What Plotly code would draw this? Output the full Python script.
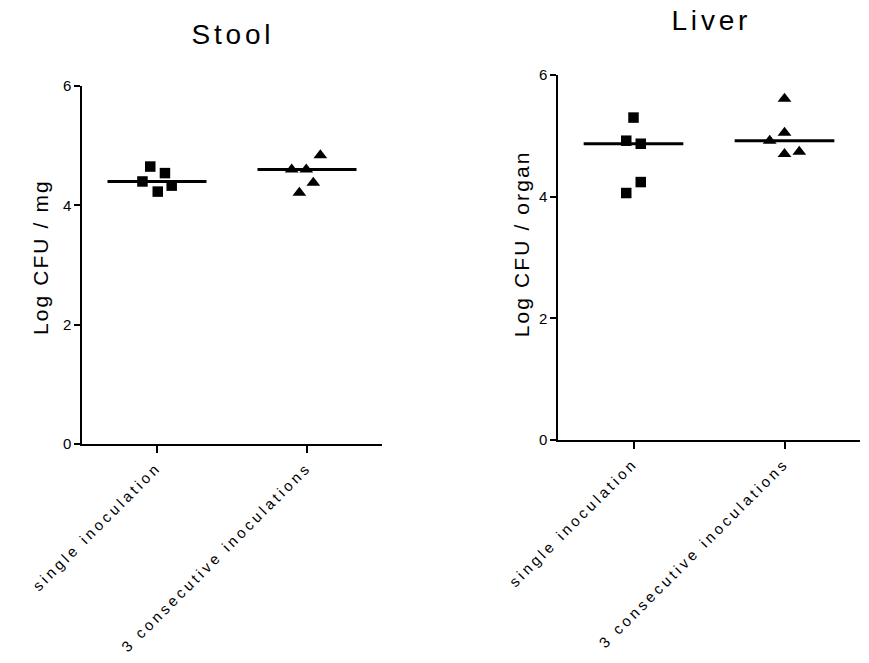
import numpy as np
import plotly.graph_objects as go

categories = ["single inoculation", "3 consecutive inoculations"]

stool_single = [4.65, 4.54, 4.40, 4.33, 4.23]
stool_triple = [4.84, 4.60, 4.60, 4.38, 4.21]
liver_single = [5.30, 4.92, 4.87, 4.24, 4.06]
liver_triple = [5.61, 5.05, 4.92, 4.70, 4.74]

# horizontal scatter of the points around their category (as drawn)
stool_single_jit = [-0.045, 0.053, -0.097, 0.098, 0.005]
stool_triple_jit = [0.089, -0.102, -0.005, 0.042, -0.051]
liver_single_jit = [0.0, -0.048, 0.048, 0.048, -0.048]
liver_triple_jit = [0.0, 0.0, -0.098, 0.0, 0.098]

y_ticks = [0, 2, 4, 6]

FONT = "Arial, Liberation Sans, sans-serif"
W, H = 869, 663


def px(x):
    return x / W


def py(y):
    return (H - y) / H


fig = go.Figure()


def add_group(values, jit, cat, symbol, xa, ya):
    xs = [cat + j for j in jit]
    fig.add_trace(go.Scatter(
        x=xs, y=values, mode="markers", xaxis=xa, yaxis=ya,
        marker=dict(symbol=symbol, size=10.5 if symbol == "square" else 12,
                    color="black", line=dict(width=0)),
        showlegend=False, hoverinfo="y"))
    med = float(np.median(values))
    fig.add_trace(go.Scatter(
        x=[cat - 0.33, cat + 0.33], y=[med, med], mode="lines",
        xaxis=xa, yaxis=ya, line=dict(color="black", width=3),
        showlegend=False, hoverinfo="skip"))


add_group(stool_single, stool_single_jit, 0, "square", "x", "y")
add_group(stool_triple, stool_triple_jit, 1, "triangle-up", "x", "y")
add_group(liver_single, liver_single_jit, 0, "square", "x2", "y2")
add_group(liver_triple, liver_triple_jit, 1, "triangle-up", "x2", "y2")

xcommon = dict(range=[-0.5, 1.5], tickvals=[0, 1], ticktext=categories,
               tickangle=-45, showline=True, linecolor="black", linewidth=1.5,
               ticks="outside", ticklen=7, tickwidth=1.5, tickcolor="black",
               showgrid=False, zeroline=False, automargin=False,
               tickfont=dict(family=FONT, size=15, color="black"))
ycommon = dict(range=[0, 6], tickvals=y_ticks, showline=True, linecolor="black",
               linewidth=1.5, ticks="outside", ticklen=6, tickwidth=1.5,
               tickcolor="black", showgrid=False, zeroline=False, automargin=False,
               tickfont=dict(family=FONT, size=15, color="black"))


def ann(text, x, y, size, angle=0):
    return dict(text=text, x=px(x), y=py(y), xref="paper", yref="paper",
                showarrow=False, xanchor="center", yanchor="middle",
                textangle=angle, font=dict(family=FONT, size=size, color="black"))


fig.update_layout(
    width=W, height=H,
    margin=dict(l=0, r=0, t=0, b=0),
    paper_bgcolor="white", plot_bgcolor="white",
    font=dict(family=FONT, color="black"),
    xaxis=dict(domain=[px(82), px(382)], anchor="y", **xcommon),
    yaxis=dict(domain=[py(444), py(86)], anchor="x", **ycommon),
    xaxis2=dict(domain=[px(558), px(860)], anchor="y2", **xcommon),
    yaxis2=dict(domain=[py(440), py(75)], anchor="x2", **ycommon),
    annotations=[
        ann("Stool", 233, 34, 28),
        ann("Liver", 711, 20, 28),
        ann("Log CFU / mg", 40.5, 257, 21, -90),
        ann("Log CFU / organ", 520.5, 244, 21, -90),
    ],
)

page_js = """
document.body.style.margin = '0';
var gd = document.getElementById('{plot_id}');
function spaceLetters() {
  gd.querySelectorAll('.xtick text, .x2tick text').forEach(function (t) {
    t.style.letterSpacing = '3.3px';
  });
  gd.querySelectorAll('.annotation-text').forEach(function (t) {
    var fs = parseFloat(t.style.fontSize || '0');
    t.style.letterSpacing = fs > 24 ? '3.8px' : '2.1px';
  });
}
spaceLetters();
gd.on('plotly_afterplot', spaceLetters);
"""

fig.write_html("out.html", post_script=page_js,
               config={"displayModeBar": False})
